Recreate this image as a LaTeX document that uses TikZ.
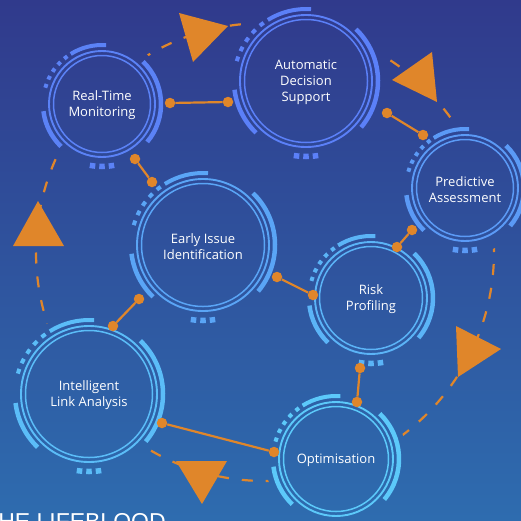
\documentclass[tikz,border=0pt]{standalone}
\usepackage{fontspec}
\usepackage{tikz}
\usetikzlibrary{arrows}
\newfontfamily\hubfont{Open Sans}
\newfontfamily\headfont{Liberation Sans}

\definecolor{bgtop}{HTML}{303A8C}
\definecolor{bgbot}{HTML}{2E6CAF}
\definecolor{flow}{HTML}{E0862A}
\definecolor{rtc}{HTML}{5B82F6}
\definecolor{adc}{HTML}{5B80F8}
\definecolor{pac}{HTML}{5B9AF6}
\definecolor{eic}{HTML}{5AA5F6}
\definecolor{rpc}{HTML}{5BB4F7}
\definecolor{ilc}{HTML}{5BBDF8}
\definecolor{opc}{HTML}{5CC9FA}

% name, x, y (down), radius, colour, text
\newcommand{\hub}[6]{%
  \pgfmathsetmacro\ra{#4+6}
  \pgfmathsetmacro\rb{#4+9.5}
  \pgfmathsetmacro\ri{#4-4.5}
  \pgfmathsetmacro\sq{(38*pi/180*\ra)/4.45}
  \pgfmathsetmacro\sqon{0.45*\sq}
  \pgfmathsetmacro\sqoff{0.55*\sq}
  \pgfmathsetmacro\hb{12.25/\rb*180/pi}
  \pgfmathsetmacro\hs{270-\hb}
  \pgfmathsetmacro\he{270+\hb}
  \coordinate (#1) at (#2,-#3);
  \node[hubtext] (#1-text) at (#2,-#3-1.5) {#6};
  \draw[#5,line width=1.9] (#1) circle[radius=#4];
  \draw[#5,line width=1.5] (#1) circle[radius=\ri];
  \draw[#5,line width=4] (#1) ++(122:\ra) arc[start angle=122,end angle=86,radius=\ra];
  \draw[#5,line width=4.5] (#1) ++(46:\ra) arc[start angle=46,end angle=-40,radius=\ra];
  \draw[#5,line width=4.5] (#1) ++(187:\ra) arc[start angle=187,end angle=226,radius=\ra];
  \draw[#5,line width=4,dash pattern=on \sqon pt off \sqoff pt] (#1) ++(126:\ra) arc[start angle=126,end angle=164,radius=\ra];
  \draw[#5,line width=5.5,dash pattern=on 5.5pt off 4pt] (#1) ++(\hs:\rb) arc[start angle=\hs,end angle=\he,radius=\rb];
}

\begin{document}
\begin{tikzpicture}
  [x=1pt,y=1pt,
   hubtext/.style={align=center,text=white,font=\hubfont\fontsize{13}{16}\selectfont},
   dot/.style={circle,fill=flow,inner sep=0pt,minimum size=10.5pt},
   link/.style={flow,line width=2.2pt},
   loopline/.style={flow,line width=2.2pt,dash pattern=on 11pt off 13pt},
   tri/.style={fill=flow}]
  \useasboundingbox (0,0) rectangle (521,-520);
  \shade[top color=bgtop,bottom color=bgbot] (0,0) rectangle (521,-520);

  \hub{rt}{102}{104}{53}{rtc}{Real-Time\\Monitoring}
  \hub{ad}{306}{81}{66}{adc}{Automatic\\Decision\\Support}
  \hub{pa}{465}{188}{53}{pac}{Predictive\\Assessment}
  \hub{ei}{203}{245}{66}{eic}{Early Issue\\Identification}
  \hub{rp}{371}{298}{56}{rpc}{Risk\\Profiling}
  \hub{il}{89}{394}{68}{ilc}{Intelligent\\Link Analysis}
  \hub{op}{336}{459}{57}{opc}{Optimisation}

  % dashed loop behind the hubs
  \begin{scope}[even odd rule]
    \clip (-5,5) rectangle (526,-525)
      (rt) circle[radius=67] (ad) circle[radius=80]
      (pa) circle[radius=67] (ei) circle[radius=80]
      (rp) circle[radius=70] (il) circle[radius=82]
      (op) circle[radius=71];
    \draw[loopline] (265,-252) circle[radius=229];
  \end{scope}

  \foreach \n/\x/\y in {rtR/170/103,adL/228/102,rtB/135/159,eiT/152/182,
                        adR/387/113,paT/423/135,paB/412/230,rpT/397/247,
                        eiR/277/277,rpL/313/295,eiB/139/299,ilT/113/326,
                        rpB/360/368,opT/357/402,ilR/162/423,opL/274/452}
    \node[dot] (\n) at (\x,-\y) {};

  \foreach \from/\to in {rtR/adL,rtB/eiT,adR/paT,paB/rpT,eiR/rpL,eiB/ilT,rpB/opT,ilR/opL}
    \draw[link] (\from) -- (\to);

  \fill[tri] (179,-13) -- (228,-26) -- (193,-62) -- cycle;
  \fill[tri] (392,-80) -- (432,-52) -- (437,-102) -- cycle;
  \fill[tri] (456,-326) -- (501,-349) -- (458,-377) -- cycle;
  \fill[tri] (176,-461) -- (227,-461) -- (202,-504) -- cycle;
  \fill[tri] (13,-246) -- (64,-246) -- (38,-201) -- cycle;

  \node[anchor=base west,inner sep=0pt,text=white,font=\headfont\fontsize{23}{26}\selectfont] (head) at (-16,-529) {THE LIFEBLOOD};
\end{tikzpicture}
\end{document}
